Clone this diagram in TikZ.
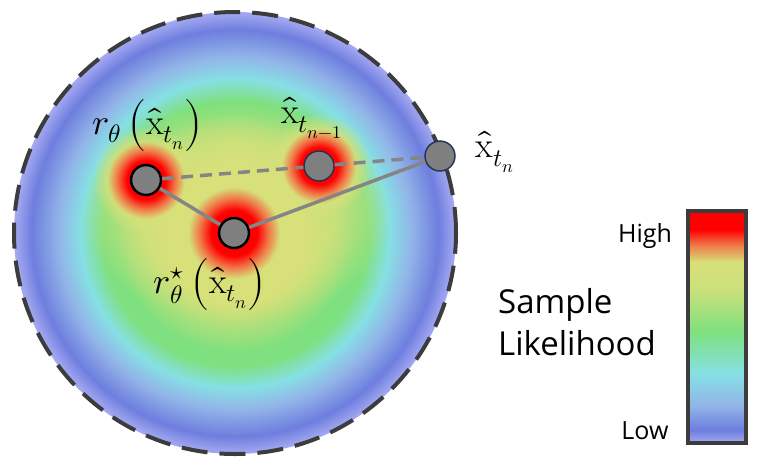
\documentclass[tikz,border=0pt]{standalone}
\usepackage{fontspec}
\usepackage{unicode-math}
\setsansfont{Open Sans}
\usetikzlibrary{fadings}

\definecolor{hyel}{HTML}{D8E07A}
\definecolor{hgrn}{HTML}{7EE07E}
\definecolor{hcyan}{HTML}{86E0E4}
\definecolor{hlblue}{HTML}{92B4E8}
\definecolor{hblue}{HTML}{6E7EDE}
\definecolor{hedge}{HTML}{A6AAF2}
\definecolor{horange}{HTML}{F07848}
\definecolor{ptgray}{HTML}{7F7F7F}
\definecolor{ptnavy}{HTML}{1F3251}
\definecolor{linkgray}{HTML}{858585}
\definecolor{framegray}{HTML}{3C3C3C}

\pgfdeclareradialshading{heat}{\pgfpoint{0bp}{0bp}}{color(0bp)=(hyel); color(8bp)=(hyel); color(13.5bp)=(hgrn); color(15bp)=(hgrn); color(17.5bp)=(hcyan); color(20bp)=(hlblue); color(23bp)=(hblue); color(25bp)=(hedge); color(50bp)=(hedge)}
\pgfdeclareradialshading{blob}{\pgfpoint{0bp}{0bp}}{color(0bp)=(red); color(9bp)=(red); color(13.5bp)=(horange); color(18bp)=(hyel); color(50bp)=(hyel)}
\pgfdeclareradialshading{blobmask}{\pgfpoint{0bp}{0bp}}{color(0bp)=(pgftransparent!0); color(16bp)=(pgftransparent!0); color(25bp)=(pgftransparent!100); color(50bp)=(pgftransparent!100)}
\pgfdeclarefading{blobfade}{\pgfuseshading{blobmask}}
\pgfdeclareverticalshading{cbar}{100bp}{color(0bp)=(hedge); color(25bp)=(hedge); color(27.8bp)=(hblue); color(33bp)=(hlblue); color(40bp)=(hcyan); color(49bp)=(hgrn); color(58bp)=(hyel!85!hgrn); color(64bp)=(hyel); color(67.7bp)=(horange); color(71bp)=(red); color(100bp)=(red)}

\tikzset{
	pt/.style = {circle, draw = black, line width = 2.5pt, fill = ptgray, minimum size = 30pt, inner sep = 0pt},
	ptb/.style = {pt, draw = ptnavy, line width = 1.4pt},
	link/.style = {linkgray, line width = 3.5pt},
	blobfill/.style = {shading = blob, path fading = blobfade},
	mlabel/.style = {inner sep = 0pt},
}

\begin{document}
\begin{tikzpicture}[x = 1pt, y = -1pt, font = {\fontsize{36pt}{42pt}\selectfont}]
\useasboundingbox (0,0) rectangle (762,467);

\coordinate (c-rth) at (146,180);
\coordinate (c-star) at (234,233);
\coordinate (c-n1) at (319,166);
\coordinate (c-xtn) at (440,156);

% likelihood field
\shade[shading = heat] (235,233) circle (221pt);
\fill[hyel, path fading = blobfade, fill opacity = 0.7] (236,212) ellipse (155pt and 110pt);
\shade[blobfill] (c-star) circle (64pt);
\shade[blobfill] (c-rth) circle (54pt);
\shade[blobfill] (c-n1) circle (52pt);
\draw[framegray, line width = 4pt, dash pattern = on 26pt off 12pt] (235,233) circle (221pt);

\node[pt] (rth) at (c-rth) {};
\node[pt] (star) at (c-star) {};
\node[ptb] (n1) at (c-n1) {};
\node[ptb] (xtn) at (c-xtn) {};

\draw[link] (rth) -- (star) -- (xtn);
\draw[link, dash pattern = on 12pt off 7pt] (rth) -- (n1) -- (xtn);

\node[mlabel] (lrth) at (148,125) {$r_\theta\left(\hat{\mathrm{x}}_{t_n}\right)$};
\node[mlabel] (ln1) at (312,118) {$\hat{\mathrm{x}}_{t_{n-1}}$};
\node[mlabel] (lstar) at (210,284) {$r_\theta^\star\left(\hat{\mathrm{x}}_{t_n}\right)$};
\node[mlabel] (lxtn) at (495,152) {$\hat{\mathrm{x}}_{t_n}$};

% colour bar
\node[shading = cbar, draw = framegray, line width = 4pt, minimum width = 58pt, minimum height = 232pt, inner sep = 0pt] (bar) at (717,327) {};
\node[font = {\sffamily\fontsize{25pt}{30pt}\selectfont}] (high) at (645,236) {High};
\node[font = {\sffamily\fontsize{25pt}{30pt}\selectfont}] (low) at (645,431) {Low};
\node[font = {\sffamily\fontsize{33pt}{42pt}\selectfont}, align = left] (title) at (577,322) {Sample \\ Likelihood};
\end{tikzpicture}
\end{document}
